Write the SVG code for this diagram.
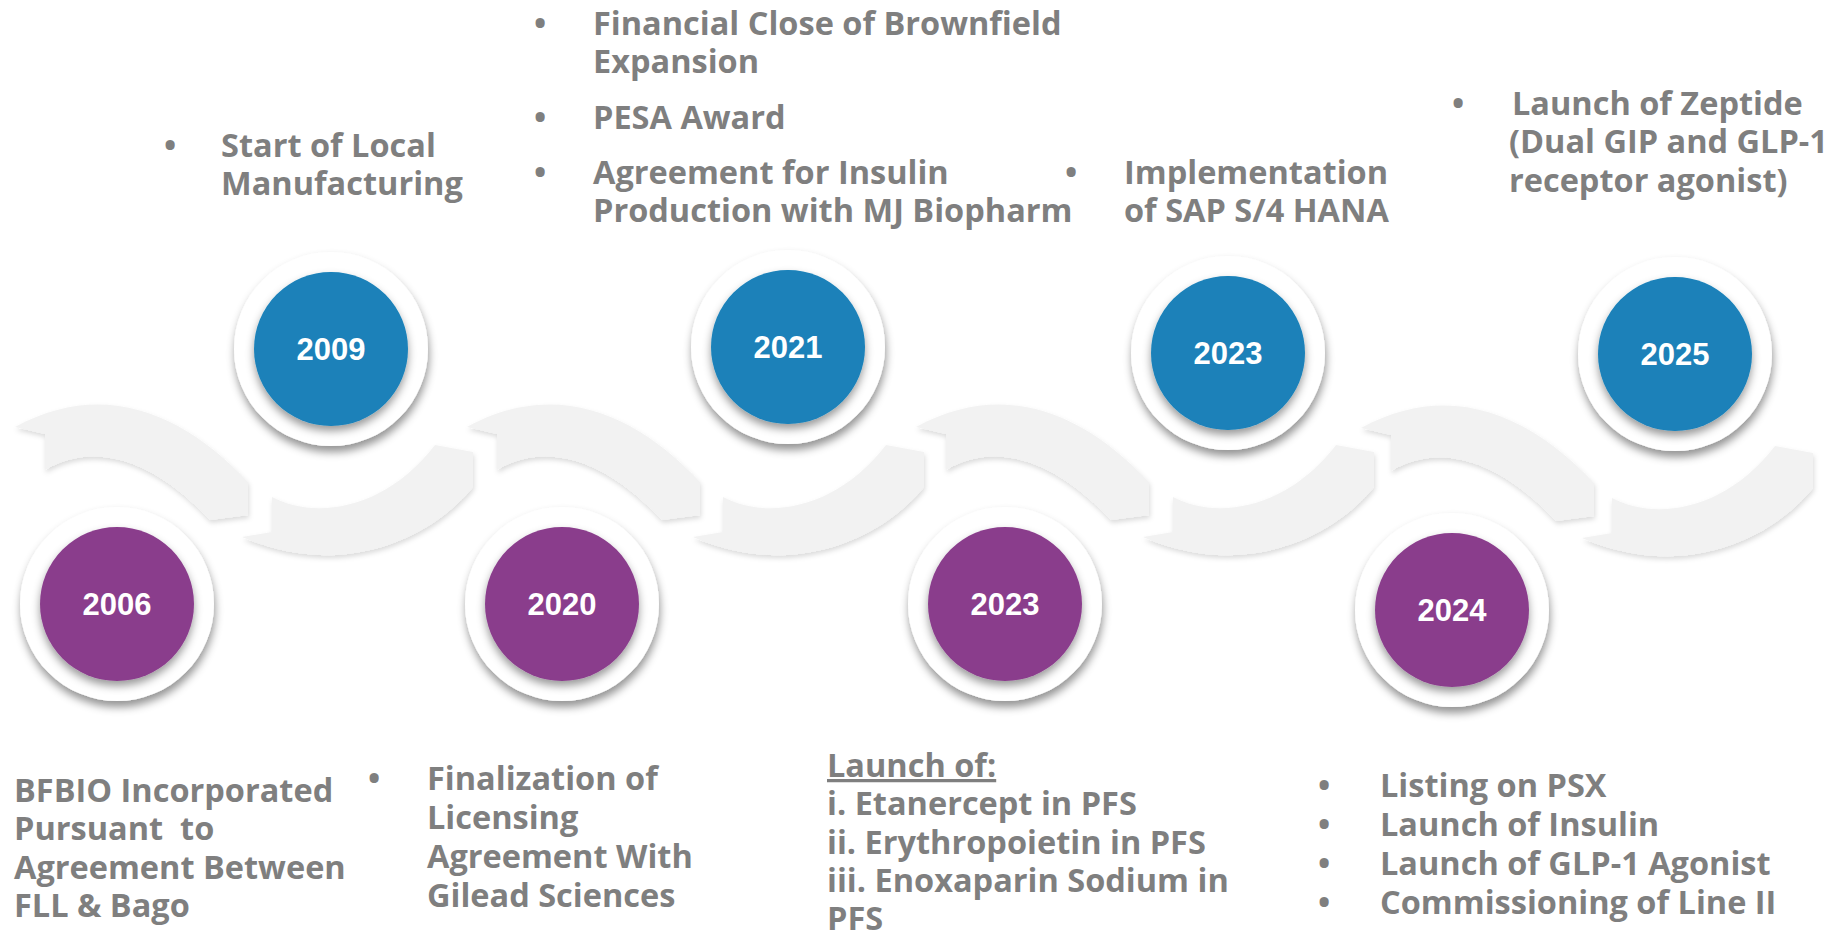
<svg xmlns="http://www.w3.org/2000/svg" xmlns:xlink="http://www.w3.org/1999/xlink" width="1833" height="935" viewBox="0 0 1833 935">
<defs>
<style>
.yr{font-family:"Liberation Sans",Arial,sans-serif;font-weight:700;font-size:31px;fill:#ffffff;text-anchor:middle}
.t{font-family:"Open Sans","DejaVu Sans",sans-serif;font-weight:700;font-size:32.5px;fill:#7f7f7f}
.bl{text-anchor:middle}
.arc{fill:#f2f2f2;filter:url(#as)}
.ring{fill:#ffffff;filter:url(#cs)}
.blue{fill:#1a81b9;filter:url(#cs2)}
.purple{fill:#8a3e8c;filter:url(#cs2)}
</style>
<filter id="cs" x="-30%" y="-30%" width="160%" height="170%">
<feDropShadow dx="1" dy="6" stdDeviation="4" flood-color="#000000" flood-opacity="0.42"/>
</filter>
<filter id="cs2" x="-30%" y="-30%" width="160%" height="170%">
<feDropShadow dx="0" dy="5" stdDeviation="4" flood-color="#000000" flood-opacity="0.4"/>
</filter>
<filter id="as" x="-20%" y="-20%" width="140%" height="150%">
<feDropShadow dx="1" dy="3" stdDeviation="2.5" flood-color="#000000" flood-opacity="0.14"/>
</filter>
<path id="arcA" d="M15,427 L45,434 L45,470 C90,443 150,455 210,520 L248,515 L248,482 C185,415 105,378 15,427 Z"/>
<path id="arcB" d="M242,537 L272,532 L272,497 C315,520 385,510 435,445 L473,452 L473,487 C430,540 340,580 242,537 Z"/>
</defs>
<rect width="1833" height="935" fill="#ffffff"/>
<g id="connectors">
<use xlink:href="#arcA" class="arc"/>
<use xlink:href="#arcB" class="arc"/>
<use xlink:href="#arcA" class="arc" transform="translate(452,0)"/>
<use xlink:href="#arcB" class="arc" transform="translate(451,0)"/>
<use xlink:href="#arcA" class="arc" transform="translate(901,0)"/>
<use xlink:href="#arcB" class="arc" transform="translate(901,0)"/>
<use xlink:href="#arcA" class="arc" transform="translate(1346,1)"/>
<use xlink:href="#arcB" class="arc" transform="translate(1340,1)"/>
</g>
<g id="node-2006">
<circle class="ring" cx="117" cy="604" r="97"/>
<circle class="purple" cx="117" cy="604" r="77"/>
<text class="yr" x="117" y="615">2006</text>
<text class="t" x="14" y="802">BFBIO Incorporated</text>
<text class="t" x="14" y="840" xml:space="preserve">Pursuant  to</text>
<text class="t" x="14" y="879">Agreement Between</text>
<text class="t" x="14" y="917">FLL &amp; Bago</text>
</g>
<g id="node-2009">
<circle class="ring" cx="331" cy="349" r="97"/>
<circle class="blue" cx="331" cy="349" r="77"/>
<text class="yr" x="331" y="360">2009</text>
<text class="t bl" x="170" y="157">•</text>
<text class="t" x="221" y="157">Start of Local</text>
<text class="t" x="221" y="195">Manufacturing</text>
</g>
<g id="node-2020">
<circle class="ring" cx="562" cy="604" r="97"/>
<circle class="purple" cx="562" cy="604" r="77"/>
<text class="yr" x="562" y="615">2020</text>
<text class="t bl" x="374" y="790">•</text>
<text class="t" x="427" y="790">Finalization of</text>
<text class="t" x="427" y="829">Licensing</text>
<text class="t" x="427" y="868">Agreement With</text>
<text class="t" x="427" y="907">Gilead Sciences</text>
</g>
<g id="node-2021">
<circle class="ring" cx="788" cy="347" r="97"/>
<circle class="blue" cx="788" cy="347" r="77"/>
<text class="yr" x="788" y="358">2021</text>
<text class="t bl" x="540" y="35">•</text>
<text class="t" x="593" y="35">Financial Close of Brownfield</text>
<text class="t" x="593" y="73">Expansion</text>
<text class="t bl" x="540" y="129">•</text>
<text class="t" x="593" y="129">PESA Award</text>
<text class="t bl" x="540" y="184">•</text>
<text class="t" x="593" y="184">Agreement for Insulin</text>
<text class="t" x="593" y="222">Production with MJ Biopharm</text>
</g>
<g id="node-2023-bottom">
<circle class="ring" cx="1005" cy="604" r="97"/>
<circle class="purple" cx="1005" cy="604" r="77"/>
<text class="yr" x="1005" y="615">2023</text>
<text class="t" x="827" y="777" text-decoration="underline">Launch of:</text>
<text class="t" x="827" y="815">i. Etanercept in PFS</text>
<text class="t" x="827" y="854">ii. Erythropoietin in PFS</text>
<text class="t" x="827" y="892">iii. Enoxaparin Sodium in</text>
<text class="t" x="827" y="930">PFS</text>
</g>
<g id="node-2023-top">
<circle class="ring" cx="1228" cy="353" r="97"/>
<circle class="blue" cx="1228" cy="353" r="77"/>
<text class="yr" x="1228" y="364">2023</text>
<text class="t bl" x="1071" y="184">•</text>
<text class="t" x="1124" y="184">Implementation</text>
<text class="t" x="1124" y="222">of SAP S/4 HANA</text>
</g>
<g id="node-2024">
<circle class="ring" cx="1452" cy="610" r="97"/>
<circle class="purple" cx="1452" cy="610" r="77"/>
<text class="yr" x="1452" y="621">2024</text>
<text class="t bl" x="1324" y="797">•</text>
<text class="t" x="1380" y="797">Listing on PSX</text>
<text class="t bl" x="1324" y="836">•</text>
<text class="t" x="1380" y="836">Launch of Insulin</text>
<text class="t bl" x="1324" y="875">•</text>
<text class="t" x="1380" y="875">Launch of GLP-1 Agonist</text>
<text class="t bl" x="1324" y="914">•</text>
<text class="t" x="1380" y="914">Commissioning of Line II</text>
</g>
<g id="node-2025">
<circle class="ring" cx="1675" cy="354" r="97"/>
<circle class="blue" cx="1675" cy="354" r="77"/>
<text class="yr" x="1675" y="365">2025</text>
<text class="t bl" x="1458" y="115">•</text>
<text class="t" x="1512" y="115">Launch of Zeptide</text>
<text class="t" x="1509" y="153">(Dual GIP and GLP-1</text>
<text class="t" x="1509" y="192">receptor agonist)</text>
</g>
</svg>
